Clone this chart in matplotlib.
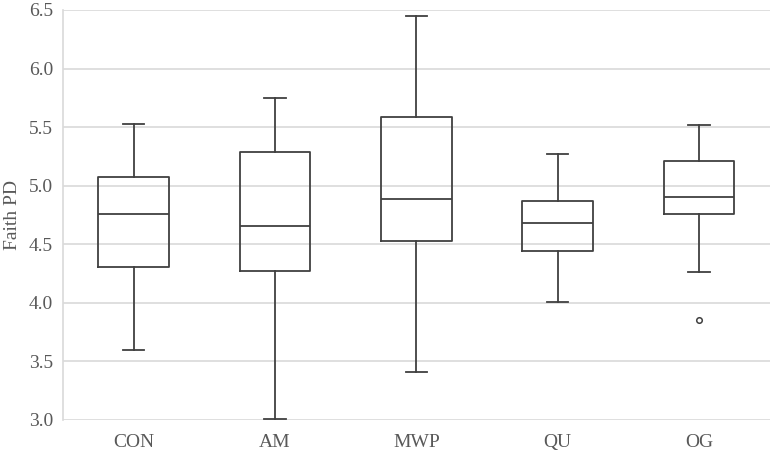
import matplotlib.pyplot as plt

groups = ["CON", "AM", "MWP", "QU", "OG"]
whislo = [3.60, 3.01, 3.41, 4.01, 4.26]
q1 = [4.31, 4.27, 4.53, 4.44, 4.76]
med = [4.76, 4.66, 4.89, 4.68, 4.90]
q3 = [5.07, 5.29, 5.59, 4.87, 5.21]
whishi = [5.53, 5.75, 6.45, 5.27, 5.52]
fliers = [[], [], [], [], [3.85]]

plt.rcParams["font.family"] = ["Liberation Serif", "DejaVu Serif"]

stats = []
for i, g in enumerate(groups):
    stats.append({"label": g, "whislo": whislo[i], "q1": q1[i], "med": med[i],
                  "q3": q3[i], "whishi": whishi[i], "fliers": fliers[i]})

fig = plt.figure(figsize=(7.76, 4.54), dpi=100)
ax = fig.add_axes([0.081, 0.075, 0.911, 0.903])

line_col = "#404040"
ax.bxp(stats, positions=range(len(groups)), widths=0.5, capwidths=0.15,
       boxprops=dict(color=line_col, linewidth=1.3),
       medianprops=dict(color=line_col, linewidth=1.3),
       whiskerprops=dict(color=line_col, linewidth=1.3),
       capprops=dict(color=line_col, linewidth=1.3),
       flierprops=dict(marker="o", markersize=4, markerfacecolor="none",
                       markeredgecolor=line_col, markeredgewidth=1.1))

ax.set_xlim(-0.5, len(groups) - 0.5)
ax.set_ylim(3.0, 6.5)
ax.set_yticks([3.0, 3.5, 4.0, 4.5, 5.0, 5.5, 6.0, 6.5])
ax.set_yticklabels(["%.1f" % v for v in ax.get_yticks()])
ax.grid(axis="y", color="#d9d9d9", linewidth=1.2)
ax.set_axisbelow(True)

for s in ["top", "right", "bottom"]:
    ax.spines[s].set_visible(False)
ax.spines["left"].set_color("#d9d9d9")
ax.spines["left"].set_linewidth(1.2)

ax.tick_params(axis="both", length=0, labelsize=14, labelcolor="#595959")
ax.tick_params(axis="y", pad=7)
ax.tick_params(axis="x", pad=10)
ax.set_ylabel("Faith PD", fontsize=14, color="#595959", labelpad=6)

fig.savefig("out.png", dpi=100)
